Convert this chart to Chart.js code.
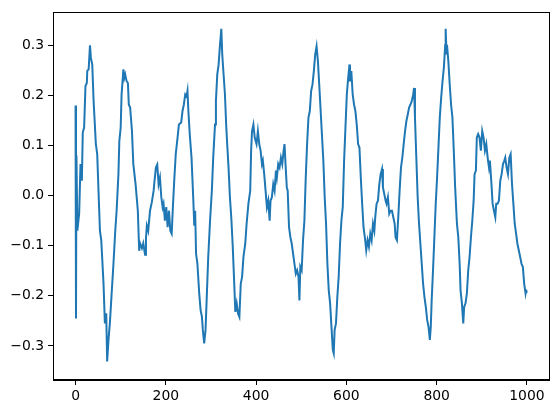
<!DOCTYPE html>
<html>
<head>
<meta charset="utf-8">
<script src="https://cdn.jsdelivr.net/npm/chart.js@4/dist/chart.umd.min.js"></script>
<style>
  html, body { margin: 0; padding: 0; background: #fff; }
  canvas { display: block; }
</style>
</head>
<body>
<canvas id="chart" width="559" height="413"></canvas>
<script>
// sample index (x) and signal value (y)
const xValues = [
    0, 1, 2, 4, 8, 11, 14, 16, 19, 22, 25, 26, 29, 32, 34, 37, 40, 45, 48, 54,
    57, 62, 65, 68, 70, 73, 76, 80, 84, 88, 91, 95, 97, 100, 102, 106, 108, 110, 113, 116,
    118, 121, 125, 128, 133, 138, 141, 143, 147, 150, 154, 156, 158, 161, 165, 169, 173, 175, 178, 181,
    184, 187, 190, 193, 195, 198, 201, 204, 207, 210, 213, 216, 219, 222, 226, 229, 234, 237, 240, 243,
    246, 248, 250, 253, 257, 261, 263, 265, 267, 270, 274, 277, 280, 282, 285, 288, 291, 294, 298, 302,
    305, 309, 311, 314, 317, 320, 323, 325, 328, 331, 334, 336, 339, 342, 345, 348, 351, 354, 357, 360,
    363, 366, 369, 372, 376, 379, 383, 387, 389, 391, 394, 397, 401, 404, 407, 410, 413, 415, 418, 421,
    424, 427, 430, 432, 435, 438, 441, 444, 446, 449, 452, 455, 458, 461, 463, 466, 468, 470, 473, 476,
    479, 482, 485, 488, 491, 494, 496, 498, 501, 504, 507, 510, 513, 516, 519, 522, 525, 528, 531, 534,
    537, 540, 543, 546, 549, 552, 555, 558, 561, 564, 567, 570, 572, 574, 577, 580, 583, 586, 589, 592,
    595, 598, 601, 604, 607, 608, 611, 614, 617, 620, 623, 626, 629, 632, 635, 638, 641, 644, 647, 650,
    653, 656, 659, 662, 664, 667, 670, 673, 676, 679, 681, 684, 687, 689, 692, 695, 698, 701, 704, 707,
    709, 712, 715, 718, 721, 724, 727, 730, 733, 736, 739, 742, 745, 748, 750, 752, 755, 758, 761, 764,
    767, 770, 773, 776, 779, 782, 785, 787, 789, 792, 795, 798, 801, 804, 807, 810, 813, 816, 819, 820,
    822, 823, 826, 829, 832, 835, 838, 841, 845, 848, 851, 853, 856, 859, 861, 864, 867, 870, 873, 876,
    879, 882, 884, 887, 889, 892, 895, 898, 901, 904, 907, 910, 913, 916, 918, 921, 924, 927, 930, 932,
    935, 938, 941, 944, 947, 950, 952, 955, 958, 961, 964, 967, 970, 973, 976, 979, 982, 985, 988, 991,
    994, 997, 998, 999
];
const yValues = [
    0.18, -0.245, 0.08, -0.07, -0.036, 0.063, 0.03, 0.126, 0.136, 0.219, 0.225, 0.249, 0.252, 0.30, 0.275, 0.262, 0.189, 0.103, 0.083, -0.07,
    -0.089, -0.176, -0.255, -0.235, -0.331, -0.288, -0.255, -0.195, -0.136, -0.07, -0.03, 0.043, 0.109, 0.136, 0.202, 0.252, 0.235, 0.242, 0.229, 0.225,
    0.182, 0.176, 0.129, 0.063, 0.023, -0.03, -0.11, -0.095, -0.105, -0.095, -0.118, -0.085, -0.06, -0.07, -0.03, -0.013, 0.01, 0.03, 0.056, 0.062,
    0.023, 0.036, -0.003, -0.023, -0.016, -0.05, -0.023, -0.063, -0.03, -0.07, -0.076, -0.016, 0.036, 0.083, 0.116, 0.142, 0.146, 0.169, 0.182, 0.202,
    0.198, 0.209, 0.169, 0.123, 0.075, -0.01, -0.06, -0.03, -0.116, -0.136, -0.195, -0.228, -0.242, -0.268, -0.295, -0.268, -0.195, -0.122, -0.05, 0.01,
    0.076, 0.142, 0.189, 0.242, 0.262, 0.301, 0.333, 0.282, 0.242, 0.202, 0.136, 0.103, 0.056, -0.003, -0.043, -0.096, -0.162, -0.232, -0.215, -0.235,
    -0.242, -0.176, -0.162, -0.122, -0.096, -0.056, -0.016, 0.01, 0.09, 0.129, 0.142, 0.116, 0.103, 0.129, 0.103, 0.09, 0.063, 0.07, 0.043, 0.01,
    -0.023, -0.01, -0.05, -0.01, -0.003, 0.023, 0.01, 0.05, 0.036, 0.063, 0.056, 0.076, 0.063, 0.09, 0.103, 0.05, 0.017, 0.01, -0.063, -0.083,
    -0.096, -0.116, -0.136, -0.156, -0.149, -0.162, -0.209, -0.142, -0.149, -0.089, -0.05, 0.036, 0.103, 0.156, 0.169, 0.209, 0.222, 0.249, 0.282, 0.298,
    0.268, 0.22, 0.17, 0.12, 0.07, -0.003, -0.056, -0.136, -0.189, -0.215, -0.262, -0.308, -0.315, -0.268, -0.255, -0.202, -0.162, -0.096, -0.05, -0.023,
    0.07, 0.136, 0.202, 0.235, 0.262, 0.228, 0.249, 0.202, 0.182, 0.169, 0.142, 0.103, 0.096, 0.036, -0.016, -0.063, -0.083, -0.109, -0.089, -0.102,
    -0.076, -0.089, -0.056, -0.07, -0.043, -0.016, -0.01, 0.023, 0.043, 0.053, 0.017, 0.003, -0.01, -0.016, -0.003, -0.036, -0.03, -0.03, -0.043, -0.056,
    -0.083, -0.089, -0.043, 0.01, 0.056, 0.076, 0.103, 0.129, 0.149, 0.162, 0.176, 0.182, 0.189, 0.202, 0.215, 0.156, 0.076, -0.003, -0.056, -0.096,
    -0.136, -0.176, -0.202, -0.222, -0.248, -0.262, -0.288, -0.262, -0.209, -0.149, -0.083, -0.016, 0.036, 0.096, 0.156, 0.195, 0.228, 0.255, 0.301, 0.333,
    0.282, 0.301, 0.268, 0.222, 0.182, 0.156, 0.09, 0.017, -0.056, -0.083, -0.136, -0.189, -0.215, -0.255, -0.222, -0.215, -0.195, -0.149, -0.122, -0.083,
    -0.05, -0.01, 0.043, 0.05, 0.116, 0.123, 0.116, 0.09, 0.129, 0.116, 0.09, 0.103, 0.076, 0.056, 0.07, 0.03, -0.016, -0.03, -0.043, -0.016,
    -0.016, -0.01, 0.03, 0.043, 0.063, 0.07, 0.076, 0.056, 0.043, 0.076, 0.083, 0.023, -0.016, -0.056, -0.076, -0.096, -0.109, -0.122, -0.136, -0.142,
    -0.176, -0.195, -0.189, -0.19
];

const xTicks = [0, 200, 400, 600, 800, 1000];
const yTicks = [-0.3, -0.2, -0.1, 0.0, 0.1, 0.2, 0.3];

const points = xValues.map((x, i) => ({ x: x, y: yValues[i] }));
const font = { family: 'DejaVu Sans', size: 13.9 };

// matplotlib draws a full box around the axes
const frame = {
    id: 'frame',
    afterDraw(chart) {
        const { ctx, chartArea: a } = chart;
        ctx.save();
        ctx.strokeStyle = '#000';
        ctx.lineWidth = 1;
        ctx.strokeRect(Math.round(a.left) + 0.5, Math.round(a.top) + 0.5,
            Math.round(a.right - a.left), Math.round(a.bottom - a.top));
        ctx.restore();
    }
};

new Chart(document.getElementById('chart'), {
    type: 'line',
    data: {
        datasets: [{
            data: points,
            borderColor: '#1f77b4',
            borderWidth: 2,
            pointRadius: 0,
            tension: 0,
            fill: false
        }]
    },
    options: {
        responsive: false,
        animation: false,
        devicePixelRatio: 1,
        layout: { padding: { top: 10, right: 10, left: 0, bottom: 0 } },
        plugins: { legend: { display: false }, tooltip: { enabled: false } },
        scales: {
            x: {
                type: 'linear',
                min: -49.95,
                max: 1048.95,
                afterBuildTicks: s => { s.ticks = xTicks.map(v => ({ value: v })); },
                afterFit: s => { s.height = 33; },
                grid: { drawOnChartArea: false, drawTicks: true, tickLength: 5, color: '#000' },
                border: { display: true, color: '#000' },
                ticks: { color: '#000', font: font, padding: 3, maxRotation: 0,
                    callback: v => String(v) }
            },
            y: {
                type: 'linear',
                min: -0.368,
                max: 0.366,
                afterBuildTicks: s => { s.ticks = yTicks.map(v => ({ value: v })); },
                afterFit: s => { s.width = 53; },
                grid: { drawOnChartArea: false, drawTicks: true, tickLength: 5, color: '#000' },
                border: { display: true, color: '#000' },
                ticks: { color: '#000', font: font, padding: 4,
                    callback: v => v.toFixed(1).replace('-', '\u2212') }
            }
        }
    },
    plugins: [frame]
});
</script>
</body>
</html>
